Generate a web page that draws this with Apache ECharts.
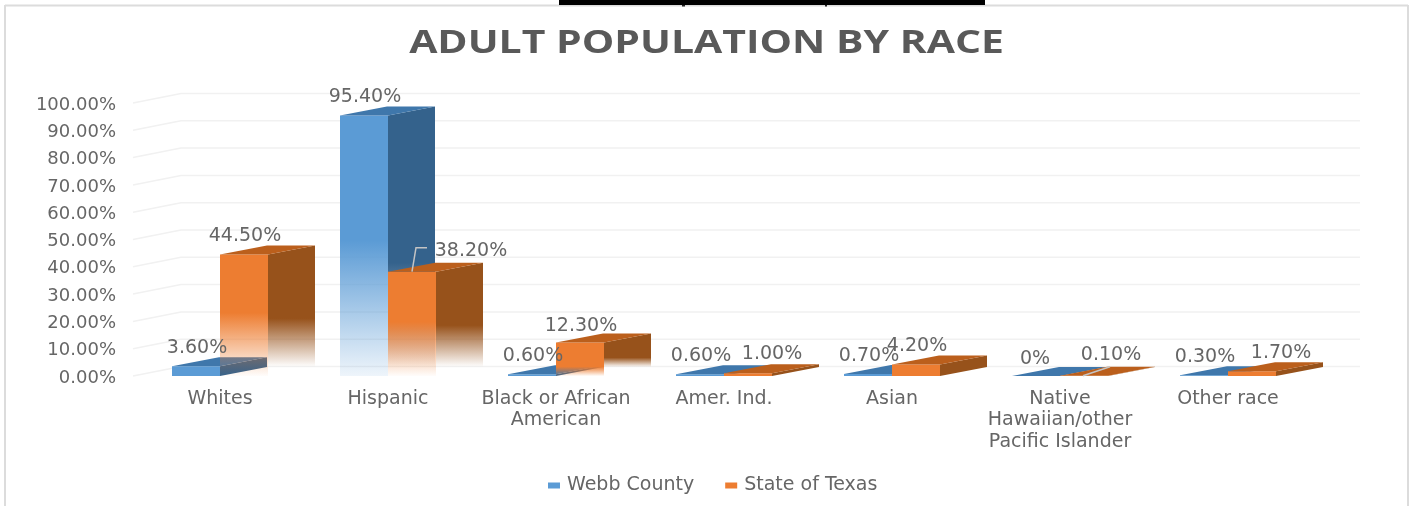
<!DOCTYPE html>
<html>
<head>
<meta charset="utf-8">
<style>html,body{margin:0;padding:0;background:#fff}#c{width:1411px;height:506px;filter:blur(0.5px)}</style>
<script src="https://cdn.jsdelivr.net/npm/echarts@6/dist/echarts.min.js"></script>
</head>
<body>
<div id="c"></div>
<script>
const chartTitle = 'ADULT POPULATION BY RACE';
const categories = ['Whites','Hispanic','Black or African\nAmerican','Amer. Ind.','Asian','Native\nHawaiian/other\nPacific Islander','Other race'];
const webbCounty = [3.6,95.4,0.6,0.6,0.7,0,0.3];
const stateOfTexas = [44.5,38.2,12.3,1.0,4.2,0.1,1.7];
const yTicks = [0,10,20,30,40,50,60,70,80,90,100];

const GREY = '#666666';
const FONT = '"DejaVu Sans"';
const DEPTH_X = 47, DEPTH_Y = 9;
const BAND_SHARE = 2 / 7;

function fmt(v){ return v === 0 ? '0%' : v.toFixed(2) + '%'; }
function alpha(rgb, a){ return 'rgba(' + rgb + ',' + a + ')'; }
function fade(rgb, v, endAlpha, endAt, tall){
  const start = v >= 20 ? tall : (v >= 10 ? 0.72 : 1);
  if (start === 1) return 'rgb(' + rgb + ')';
  return {type:'linear',x:0,y:0,x2:0,y2:1,colorStops:[
    {offset:0,color:alpha(rgb,1)},{offset:start*endAt,color:alpha(rgb,1)},
    {offset:endAt,color:alpha(rgb,endAlpha)},{offset:1,color:alpha(rgb,endAlpha)}]};
}
function barSeries(name, values, side, pal, z2, labelNudge){
  return {
    name: name, type:'custom', clip:false, silent:true,
    itemStyle:{color:pal.legend},
    encode:{x:0,y:1},
    data: values.map((v,i)=>[i,v]),
    renderItem(params, api){
      const i = api.value(0), v = api.value(1);
      const top = api.coord([i,v]), base = api.coord([i,0]);
      const w = api.size([1,0])[0] * BAND_SHARE;
      const x0 = side < 0 ? top[0] - w : top[0], x1 = x0 + w;
      const yt = top[1], yb = base[1];
      const n = labelNudge[i] || [0,0];
      const sideEnd = (yb - yt) / (yb - yt + DEPTH_Y);
      const children = [
        {type:'polygon',z2:z2,shape:{points:[[x1,yt],[x1+DEPTH_X,yt-DEPTH_Y],[x1+DEPTH_X,yb-DEPTH_Y],[x1,yb]]},
          style:{fill:fade(pal.side,v,0,sideEnd,0.6)}},
        {type:'polygon',z2:z2,shape:{points:[[x0,yt],[x1,yt],[x1,yb],[x0,yb]]},
          style:{fill:fade(pal.front,v,pal.endAlpha,1,0.48)}},
        {type:'polygon',z2:z2,shape:{points:[[x0,yt],[x0+DEPTH_X,yt-DEPTH_Y],[x1+DEPTH_X,yt-DEPTH_Y],[x1,yt]]},
          style:{fill:pal.top}},
        {type:'text',z2:100,x:(x0+x1)/2+1+n[0],y:yt-DEPTH_Y-9+n[1],
          style:{text:fmt(v),fill:GREY,font:'19px '+FONT,align:'center',verticalAlign:'middle'}}
      ];
      if (pal.leader && pal.leader[i]) {
        const p = pal.leader[i];
        children.push({type:'polyline',z2:99,shape:{points:p.map(d=>[x0+d[0],yt+d[1]])},
          style:{fill:'none',stroke:'#c4c4c4',lineWidth:1.5}});
      }
      return {type:'group',children:children};
    }
  };
}
const wallSeries = {
  name:'wall', type:'custom', clip:false, silent:true, z:1,
  encode:{x:0,y:1},
  data: yTicks.map(t=>[0,t]),
  renderItem(params, api){
    const y = api.coord([0,api.value(1)])[1];
    const g = params.coordSys;
    return {type:'polyline',shape:{points:[[g.x-3,y],[g.x-3+DEPTH_X+1,y-DEPTH_Y-0.5],[g.x+g.width+DEPTH_X+1,y-DEPTH_Y-0.5]]},
      style:{fill:'none',stroke:'#f1f1f1',lineWidth:1.5}};
  }
};
const chart = echarts.init(document.getElementById('c'),null,{renderer:'canvas'});
chart.setOption({
  animation:false,
  backgroundColor:'#ffffff',
  legend:{data:['Webb County','State of Texas'],left:543,top:471,icon:'rect',itemWidth:12,itemHeight:6,itemGap:31,
    textStyle:{fontFamily:FONT,fontSize:19,color:GREY,padding:[0,0,0,2]},selectedMode:false},
  grid:{left:136,top:103,width:1176,height:273},
  xAxis:{type:'category',data:categories,axisLine:{show:false},axisTick:{show:false},
    axisLabel:{interval:0,margin:12,fontFamily:FONT,fontSize:19,color:GREY,lineHeight:21.5}},
  yAxis:{type:'value',min:0,max:100,interval:10,axisLine:{show:false},axisTick:{show:false},splitLine:{show:false},
    axisLabel:{margin:20,formatter:v=>'{a|'+v.toFixed(2)+'%}',
      rich:{a:{fontFamily:FONT,fontSize:18,color:GREY,padding:[4,0,0,0]}}}},
  graphic:[
    {type:'line',shape:{x1:5,y1:5.5,x2:1408,y2:5.5},style:{stroke:'#dcdcdc',lineWidth:2}},
    {type:'line',shape:{x1:5,y1:5,x2:5,y2:506},style:{stroke:'#dcdcdc',lineWidth:2}},
    {type:'line',shape:{x1:1408,y1:5,x2:1408,y2:506},style:{stroke:'#dcdcdc',lineWidth:2}},
    {type:'rect',shape:{x:559,y:0,width:426,height:5},style:{fill:'#000'}},
    {type:'rect',shape:{x:682,y:5,width:3,height:1.5},style:{fill:'#222'}},
    {type:'rect',shape:{x:825,y:5,width:2,height:1.5},style:{fill:'#222'}},
    {type:'text',x:706.5,y:44,scaleX:1.24,style:{text:chartTitle,font:'700 33px "Open Sans"',fill:'#595959',align:'center',verticalAlign:'middle'}}
  ],
  series:[
    wallSeries,
    barSeries('Webb County',webbCounty,-1,
      {legend:'#5b9bd5',front:'91,155,213',side:'52,98,140',top:'#3f77ab',endAlpha:0.1},1,
      {5:[-2,1]}),
    barSeries('State of Texas',stateOfTexas,1,
      {legend:'#ed7d31',front:'237,125,49',side:'151,82,27',top:'#bb5f1c',endAlpha:0.02,
       leader:{1:[[24,0],[28,-24],[39,-24]],5:[[23,0],[50,-9]]}},2,
      {1:[58,-3],2:[0,2],3:[23,-1],5:[26,-3],6:[28,0]})
  ]
});
</script>
</body>
</html>
